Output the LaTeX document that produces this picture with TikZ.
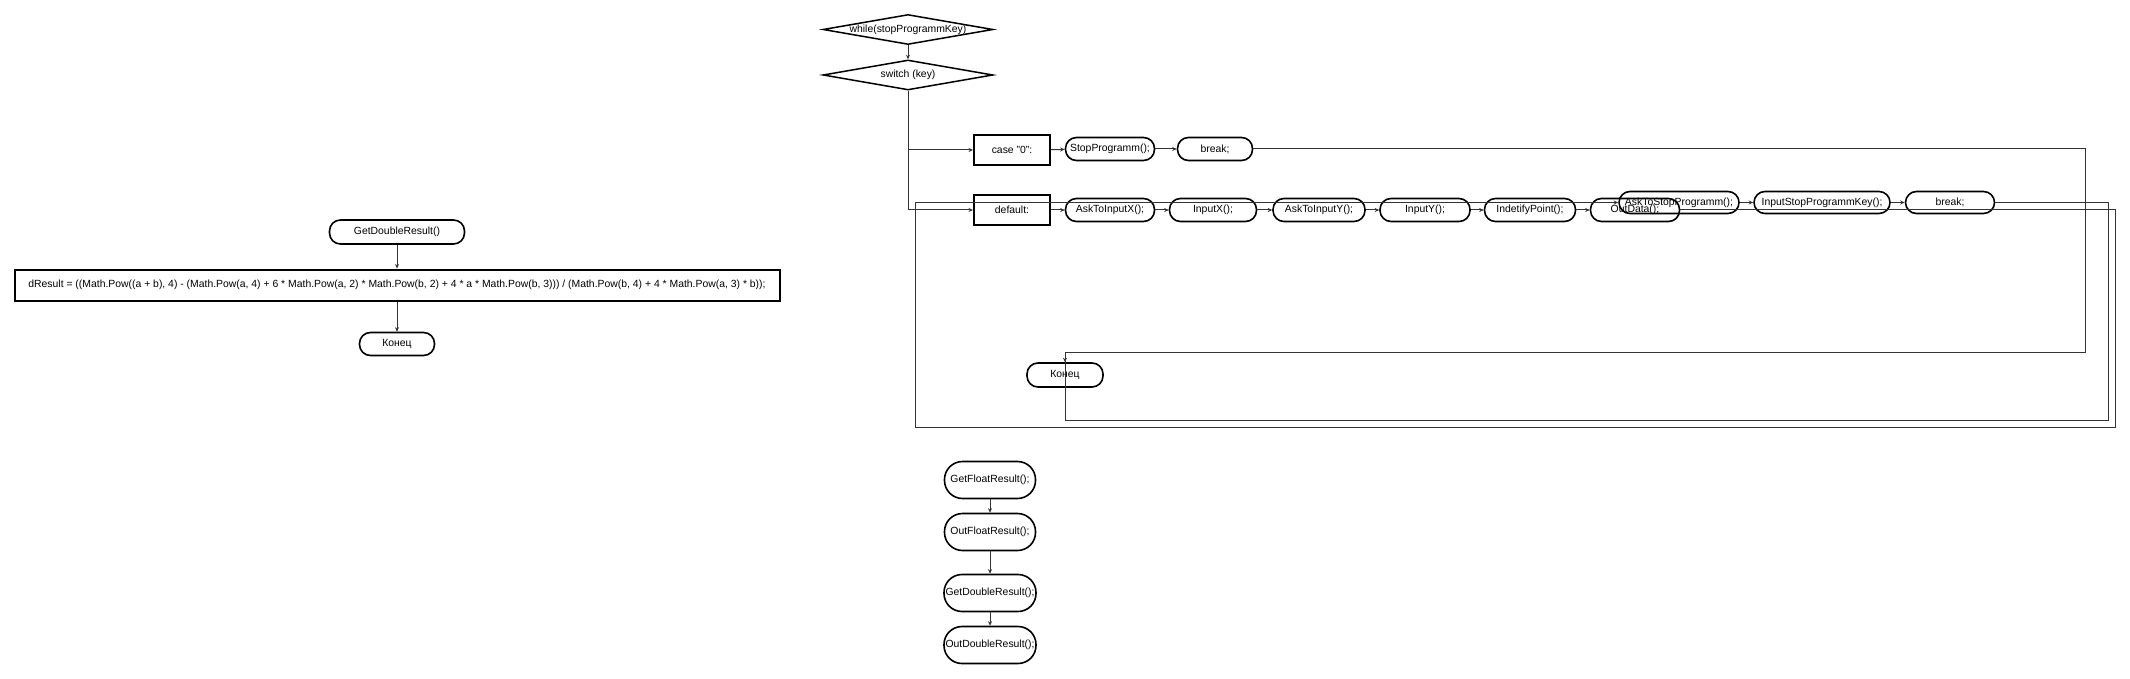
\documentclass[tikz,border=0pt]{standalone}
\usepackage{fontspec}
\setmainfont{Liberation Sans}
\usetikzlibrary{arrows.meta, shapes.geometric}

\tikzset{
  every node/.style={font=\fontsize{10.4}{12}\selectfont},
  cond/.style={shape=diamond, draw=black, line width=1.5pt, minimum width=170pt, minimum height=30pt, inner sep=0pt},
  procbox/.style={shape=rectangle, draw=black, line width=2pt, inner sep=0pt},
  term/.style={shape=rectangle, draw=black, line width=1.6pt, rounded corners=11pt, inner sep=0pt, minimum height=23pt},
  bigterm/.style={term, rounded corners=18pt, minimum height=37pt, minimum width=92pt},
  flow/.style={draw=black!80, line width=1pt},
  arr/.style={flow, -{Stealth[length=4.5pt,width=4pt]}},
}

\begin{document}
\begin{tikzpicture}[x=1pt, y=-1pt]
    \useasboundingbox (0,0) rectangle (2130,679);

    % left part
    \node[term, minimum width=135pt, minimum height=24pt] (gdrA) at (397,232) {GetDoubleResult()};
    \node[procbox, minimum width=765pt, minimum height=31pt] (dres) at (397,285) {dResult = ((Math.Pow((a + b), 4) - (Math.Pow(a, 4) + 6 * Math.Pow(a, 2) * Math.Pow(b, 2) + 4 * a * Math.Pow(b, 3))) / (Math.Pow(b, 4) + 4 * Math.Pow(a, 3) * b));};
    \node[term, minimum width=75pt] (konA) at (397,344) {Конец};

    \path [arr] (gdrA) edge (dres);
    \path [arr] (dres) edge (konA);

    % main loop
    \node[cond, label=center:{while(stopProgrammKey)}] (wh) at (908,29.5) {};
    \node[cond, label=center:{switch (key)}] (sw) at (908,75) {};

    \node[procbox, minimum width=76pt, minimum height=30pt] (case0) at (1012,150) {case "0":};
    \node[term, minimum width=89pt] (stopP) at (1110,149) {StopProgramm();};
    \node[term, minimum width=75pt] (brkA) at (1215,149) {break;};

    \node[procbox, minimum width=76pt, minimum height=29pt] (dflt) at (1012,210) {default:};
    \node[term, minimum width=89pt] (askX) at (1110,210) {AskToInputX();};
    \node[term, minimum width=87pt] (inX) at (1213,210) {InputX();};
    \node[term, minimum width=92pt] (askY) at (1319,210) {AskToInputY();};
    \node[term, minimum width=90pt] (inY) at (1425,210) {InputY();};
    \node[term, minimum width=91pt] (ident) at (1530,210) {IndetifyPoint();};
    \node[term, minimum width=89pt] (outD) at (1635,210) {OutData();};
    \node[term, minimum width=120pt, minimum height=22pt] (askS) at (1679,202.5) {AskToStopProgramm();};
    \node[term, minimum width=136pt, minimum height=22pt] (inS) at (1822,202.5) {InputStopProgrammKey();};
    \node[term, minimum width=89pt, minimum height=22pt] (brkB) at (1950,202.5) {break;};

    \node[term, minimum width=76pt, minimum height=24pt] (konB) at (1065,375) {Конец};

    \path [arr] (wh) edge (sw);
    \draw [arr] (sw.south) |- (case0.west);
    \draw [arr] (sw.south) |- (dflt.west);

    \path [arr] (case0) edge (stopP);
    \path [arr] (stopP) edge (brkA);

    \path [arr] (dflt) edge (askX);
    \path [arr] (askX) edge (inX);
    \path [arr] (inX) edge (askY);
    \path [arr] (askY) edge (inY);
    \path [arr] (inY) edge (ident);
    \path [arr] (ident) edge (outD);
    \path [arr] (askS) edge (inS);
    \path [arr] (inS) edge (brkB);

    % routed connectors
    \coordinate (jn) at (1065,352);
    \coordinate (cA) at (2085,352);
    \coordinate (cB) at (2108,420);
    \coordinate (cC) at (2115,427);
    \coordinate (cD) at (915,202.5);

    \draw [flow] (brkA.east) -| (cA) -- (jn);
    \draw [flow] (brkB.east) -| (cB) -| (jn);
    \draw [arr] (jn) -- (konB.north);
    \draw [arr] (outD.east) -| (cC) -| (cD) -- (askS.west);

    % bottom column
    \node[bigterm, minimum width=91pt] (gfr) at (990,480) {GetFloatResult();};
    \node[bigterm, minimum width=91pt] (ofr) at (990,532) {OutFloatResult();};
    \node[bigterm] (gdrB) at (990,593) {GetDoubleResult();};
    \node[bigterm] (odr) at (990,645) {OutDoubleResult();};

    \path [arr] (gfr) edge (ofr);
    \path [arr] (ofr) edge (gdrB);
    \path [arr] (gdrB) edge (odr);
\end{tikzpicture}
\end{document}
